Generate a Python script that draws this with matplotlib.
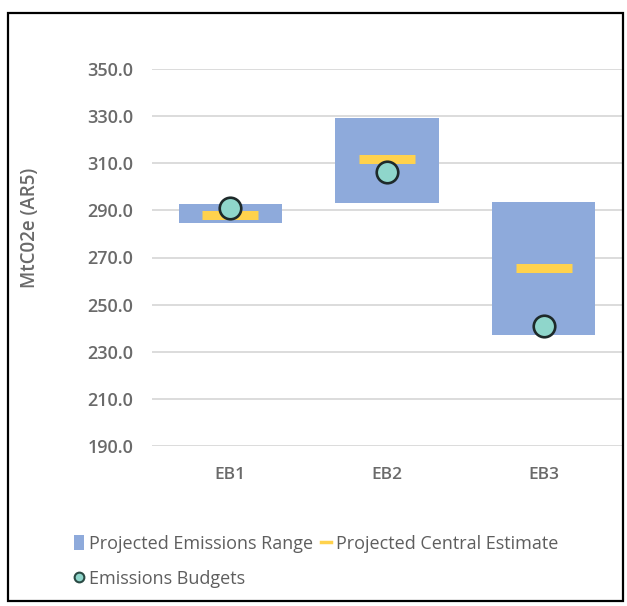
import matplotlib
matplotlib.use("Agg")
import matplotlib.pyplot as plt
from matplotlib.lines import Line2D
from matplotlib.patches import Patch, Rectangle
import numpy as np

plt.rcParams['font.family'] = ['Open Sans', 'DejaVu Sans']

categories = ["EB1", "EB2", "EB3"]
range_low = [284.6, 293.1, 237.1]
range_high = [292.7, 329.2, 293.5]
central_estimate = [288.0, 311.8, 265.5]
emissions_budget = [291.0, 306.3, 240.9]
y_ticks = [190.0, 210.0, 230.0, 250.0, 270.0, 290.0, 310.0, 330.0, 350.0]

BAR_BLUE = "#8eaadb"
YELLOW = "#ffd24d"
TEAL = "#8fd6cb"
TEXT = "#6a6a6a"

fig = plt.figure(figsize=(6.27, 6.06), dpi=100)
fig.patch.set_facecolor("white")

# outer chart border
fig.add_artist(Rectangle((8 / 627, 1 - 601 / 606), 615 / 627, 588 / 606,
                         transform=fig.transFigure, fill=False,
                         edgecolor="black", linewidth=1.6))

ax = fig.add_axes([152 / 627, 160 / 606, 470 / 627, 377 / 606])
x = np.arange(len(categories))
heights = np.array(range_high) - np.array(range_low)
ax.bar(x, heights, bottom=range_low, width=0.66, color=BAR_BLUE, zorder=2)
ax.plot(x, central_estimate, linestyle="none", marker="_", markersize=40,
        markeredgewidth=6.5, color=YELLOW, zorder=3)
ax.plot(x, emissions_budget, linestyle="none", marker="o", markersize=15.5,
        markerfacecolor=TEAL, markeredgecolor="#1e2a2a", markeredgewidth=1.9,
        zorder=4)

ax.set_xlim(-0.5, 2.5)
ax.set_ylim(190, 350)
ax.set_yticks(y_ticks)
ax.set_yticklabels([f"{v:.1f}" for v in y_ticks])
ax.set_xticks(x)
ax.set_xticklabels(categories)
ax.grid(axis="y", color="#dcdcdc", linewidth=1.4, zorder=0)
ax.set_axisbelow(True)
for s in ax.spines.values():
    s.set_visible(False)
ax.tick_params(axis="both", length=0, colors=TEXT)
ax.tick_params(axis="y", pad=13.5, labelsize=13)
ax.tick_params(axis="x", pad=15, labelsize=12.5)
for lbl in ax.get_yticklabels() + ax.get_xticklabels():
    lbl.set_fontweight("semibold")

fig.text(30 / 627, 1 - 228 / 606, "MtC02e (AR5)", rotation=90, ha="center",
         va="center", fontsize=13.5, color=TEXT, fontweight="semibold")

handles = [
    Patch(facecolor=BAR_BLUE, edgecolor="none"),
    Line2D([], [], marker="o", linestyle="none", markersize=7,
           markerfacecolor=TEAL, markeredgecolor="#2a4a44", markeredgewidth=1.5),
    Line2D([], [], color=YELLOW, linewidth=2.5),
]
labels = ["Projected Emissions Range", "Emissions Budgets",
          "Projected Central Estimate"]
leg = fig.legend(handles, labels, loc="upper left",
                 bbox_to_anchor=(65 / 627, 1 - 526 / 606),
                 ncol=2, frameon=False, fontsize=13, labelcolor="#5e5e5e",
                 handlelength=0.55, handletextpad=0.3, columnspacing=0.4,
                 labelspacing=0.95, borderpad=0, handleheight=0.9)

fig.savefig("out.png", dpi=100, facecolor="white")
